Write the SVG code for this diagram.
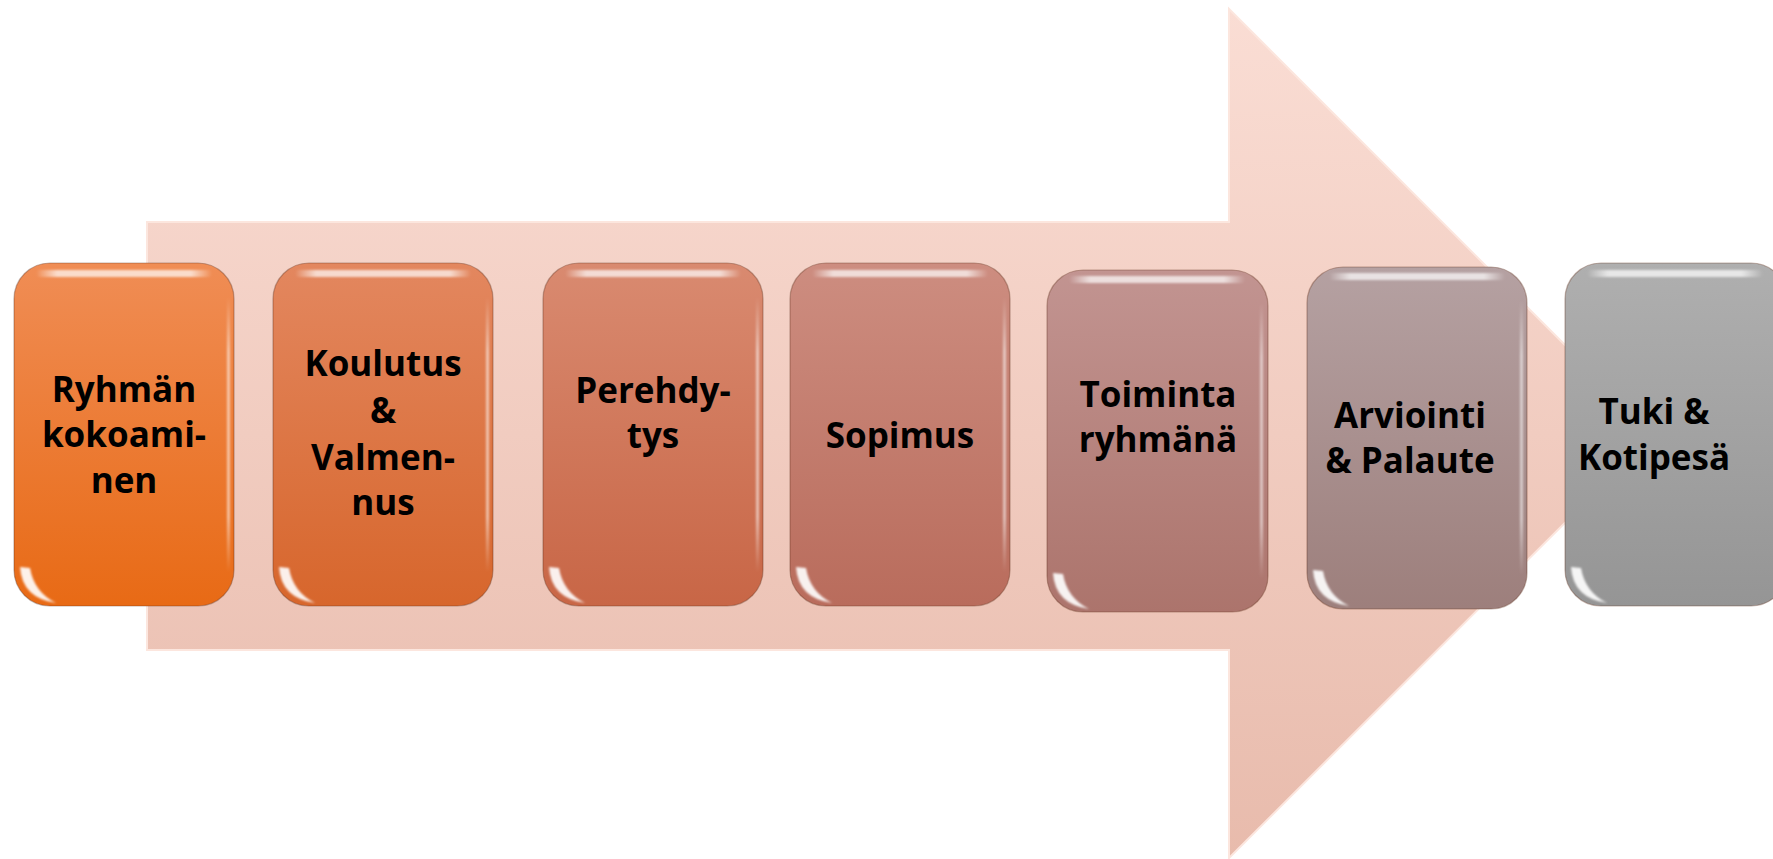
<svg xmlns="http://www.w3.org/2000/svg" xmlns:xlink="http://www.w3.org/1999/xlink" width="1773" height="859" viewBox="0 0 1773 859">
<defs>
<style>
.lbl{font-family:"Open Sans","Liberation Sans",sans-serif;font-weight:700;font-size:35px;fill:#000;text-anchor:middle}
.box{stroke:rgba(90,40,20,0.35);stroke-width:1.2}
</style>
<filter id="soft" x="-5%" y="-5%" width="110%" height="110%"><feGaussianBlur stdDeviation="1.3"/></filter>
<linearGradient id="ga" x1="0" y1="0" x2="0" y2="1">
<stop offset="0" stop-color="#FADDD4"/><stop offset="1" stop-color="#E8BBAC"/>
</linearGradient>
<linearGradient id="g1" x1="0" y1="0" x2="0" y2="1"><stop offset="0" stop-color="#F08D55"/><stop offset="1" stop-color="#E86A15"/></linearGradient>
<linearGradient id="g2" x1="0" y1="0" x2="0" y2="1"><stop offset="0" stop-color="#E3875F"/><stop offset="1" stop-color="#D7662C"/></linearGradient>
<linearGradient id="g3" x1="0" y1="0" x2="0" y2="1"><stop offset="0" stop-color="#D98A70"/><stop offset="1" stop-color="#C86646"/></linearGradient>
<linearGradient id="g4" x1="0" y1="0" x2="0" y2="1"><stop offset="0" stop-color="#CD8D80"/><stop offset="1" stop-color="#B96C5C"/></linearGradient>
<linearGradient id="g5" x1="0" y1="0" x2="0" y2="1"><stop offset="0" stop-color="#C29491"/><stop offset="1" stop-color="#AC746C"/></linearGradient>
<linearGradient id="g6" x1="0" y1="0" x2="0" y2="1"><stop offset="0" stop-color="#B5A1A2"/><stop offset="1" stop-color="#9D7F7C"/></linearGradient>
<linearGradient id="g7" x1="0" y1="0" x2="0" y2="1"><stop offset="0" stop-color="#AFAFAF"/><stop offset="1" stop-color="#959595"/></linearGradient>
<linearGradient id="hl" x1="0" y1="0" x2="1" y2="0">
<stop offset="0" stop-color="#fff" stop-opacity="0"/><stop offset="0.12" stop-color="#fff" stop-opacity="0.7"/><stop offset="0.88" stop-color="#fff" stop-opacity="0.7"/><stop offset="1" stop-color="#fff" stop-opacity="0"/>
</linearGradient>
<linearGradient id="rh" x1="0" y1="0" x2="0" y2="1">
<stop offset="0" stop-color="#fff" stop-opacity="0"/><stop offset="0.2" stop-color="#fff" stop-opacity="0.55"/><stop offset="0.8" stop-color="#fff" stop-opacity="0.55"/><stop offset="1" stop-color="#fff" stop-opacity="0"/>
</linearGradient>
<g id="gloss" filter="url(#soft)">
<rect x="22" y="7" width="176" height="7" rx="3.5" fill="url(#hl)"/>
<rect x="213" y="34" width="3" height="275" fill="url(#rh)"/>
<path d="M6,304 Q8,335 42,340 Q20,329 16,305 Z" fill="#fff" fill-opacity="0.9"/>
</g>
</defs>

<g id="flow-arrow">
<path d="M147,222 H1229 V9 L1654,434 L1229,858 V650 H147 Z" fill="url(#ga)" stroke="#FCE6DE" stroke-width="2"/>
</g>

<g id="connectors"></g>

<g id="node-1">
<rect class="box" x="14" y="263" width="220" height="343" rx="36" fill="url(#g1)"/>
<use xlink:href="#gloss" href="#gloss" transform="translate(14,263)"/>
<text class="lbl" x="124"><tspan x="124" y="402">Ryhmän</tspan><tspan x="124" y="447">kokoami-</tspan><tspan x="124" y="493">nen</tspan></text>
</g>

<g id="node-2">
<rect class="box" x="273" y="263" width="220" height="343" rx="36" fill="url(#g2)"/>
<use xlink:href="#gloss" href="#gloss" transform="translate(273,263)"/>
<text class="lbl" x="383"><tspan x="383" y="376">Koulutus</tspan><tspan x="383" y="423">&amp;</tspan><tspan x="383" y="470">Valmen-</tspan><tspan x="383" y="515">nus</tspan></text>
</g>

<g id="node-3">
<rect class="box" x="543" y="263" width="220" height="343" rx="36" fill="url(#g3)"/>
<use xlink:href="#gloss" href="#gloss" transform="translate(543,263)"/>
<text class="lbl" x="653"><tspan x="653" y="403">Perehdy-</tspan><tspan x="653" y="448">tys</tspan></text>
</g>

<g id="node-4">
<rect class="box" x="790" y="263" width="220" height="343" rx="36" fill="url(#g4)"/>
<use xlink:href="#gloss" href="#gloss" transform="translate(790,263)"/>
<text class="lbl" x="900" y="448">Sopimus</text>
</g>

<g id="node-5">
<rect class="box" x="1047" y="270" width="221" height="342" rx="36" fill="url(#g5)"/>
<use xlink:href="#gloss" href="#gloss" transform="translate(1047,269)"/>
<text class="lbl" x="1158"><tspan x="1158" y="407">Toiminta</tspan><tspan x="1158" y="452">ryhmänä</tspan></text>
</g>

<g id="node-6">
<rect class="box" x="1307" y="267" width="220" height="342" rx="36" fill="url(#g6)"/>
<use xlink:href="#gloss" href="#gloss" transform="translate(1307,266)"/>
<text class="lbl" x="1410"><tspan x="1410" y="428">Arviointi</tspan><tspan x="1410" y="473">&amp; Palaute</tspan></text>
</g>

<g id="node-7">
<rect class="box" x="1565" y="263" width="222" height="343" rx="36" fill="url(#g7)"/>
<use xlink:href="#gloss" href="#gloss" transform="translate(1565,263)"/>
<text class="lbl" x="1654"><tspan x="1654" y="424">Tuki &amp;</tspan><tspan x="1654" y="470">Kotipesä</tspan></text>
</g>
</svg>
